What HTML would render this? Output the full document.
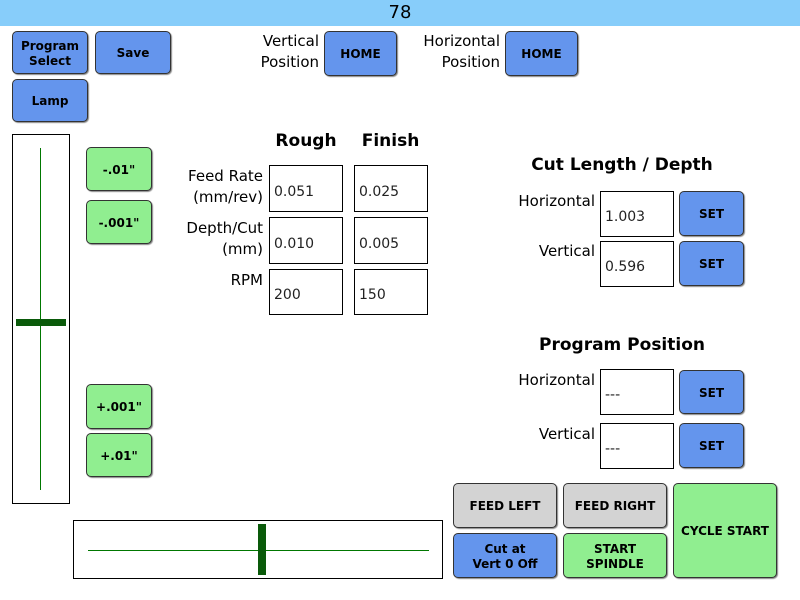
<!DOCTYPE html>
<html><head><meta charset="utf-8"><style>
body{margin:0;width:800px;height:600px;background:#fff;position:relative;overflow:hidden;font-family:"DejaVu Sans","Liberation Sans",sans-serif}
div{position:absolute;box-sizing:border-box}
.top{left:0;top:0;width:800px;height:26px;background:#87cdfa;text-align:center;font-size:18px;line-height:26px}
.b{border:1px solid #333;border-radius:5px;display:flex;align-items:center;justify-content:center;text-align:center;font-size:12px;font-weight:bold;line-height:15px;box-shadow:1px 1px 1px #888;padding-top:2px}
.bl{background:#6495ed}.g{background:#90ee90}.gr{background:#d3d3d3}
.in{border:1px solid #000;background:#fff;font-size:14px;padding-left:4px;display:flex;align-items:center;padding-top:6px;color:#222}
.l{font-size:15px;text-align:right;line-height:21px}
.h{font-size:17px;font-weight:bold}
</style></head><body>
<div class="top">78</div>
<div class="b bl" style="left:12px;top:31px;width:76px;height:43px">Program<br>Select</div>
<div class="b bl" style="left:95px;top:31px;width:76px;height:43px">Save</div>
<div class="b bl" style="left:12px;top:79px;width:76px;height:43px">Lamp</div>
<div class="l" style="left:230px;top:31px;width:89px">Vertical<br>Position</div>
<div class="b bl" style="left:324px;top:31px;width:73px;height:45px">HOME</div>
<div class="l" style="left:400px;top:31px;width:100px">Horizontal<br>Position</div>
<div class="b bl" style="left:505px;top:31px;width:73px;height:45px">HOME</div>
<div style="left:12px;top:134px;width:58px;height:370px;border:1px solid #000"></div>
<div style="left:40px;top:148px;width:1px;height:342px;background:#070"></div>
<div style="left:16px;top:319px;width:50px;height:7px;background:#0a5a0a"></div>
<div class="b g" style="left:86px;top:147px;width:66px;height:44px">-.01"</div>
<div class="b g" style="left:86px;top:200px;width:66px;height:44px">-.001"</div>
<div class="b g" style="left:86px;top:384px;width:66px;height:45px">+.001"</div>
<div class="b g" style="left:86px;top:433px;width:66px;height:44px">+.01"</div>
<div class="h" style="left:270px;top:131px;width:72px;text-align:center">Rough</div>
<div class="h" style="left:354px;top:131px;width:73px;text-align:center">Finish</div>
<div class="l" style="left:160px;top:166px;width:103px">Feed Rate<br>(mm/rev)</div>
<div class="l" style="left:160px;top:218px;width:103px">Depth/Cut<br>(mm)</div>
<div class="l" style="left:160px;top:270px;width:103px">RPM</div>
<div class="in" style="left:269px;top:165px;width:74px;height:47px">0.051</div>
<div class="in" style="left:354px;top:165px;width:74px;height:47px">0.025</div>
<div class="in" style="left:269px;top:217px;width:74px;height:47px">0.010</div>
<div class="in" style="left:354px;top:217px;width:74px;height:47px">0.005</div>
<div class="in" style="left:269px;top:269px;width:74px;height:46px">200</div>
<div class="in" style="left:354px;top:269px;width:74px;height:46px">150</div>
<div class="h" style="left:500px;top:155px;width:244px;text-align:center">Cut Length / Depth</div>
<div class="l" style="left:480px;top:191px;width:115px">Horizontal</div>
<div class="in" style="left:600px;top:191px;width:74px;height:46px">1.003</div>
<div class="b bl" style="left:679px;top:191px;width:65px;height:45px">SET</div>
<div class="l" style="left:480px;top:241px;width:115px">Vertical</div>
<div class="in" style="left:600px;top:241px;width:74px;height:46px">0.596</div>
<div class="b bl" style="left:679px;top:241px;width:65px;height:45px">SET</div>
<div class="h" style="left:500px;top:335px;width:244px;text-align:center">Program Position</div>
<div class="l" style="left:480px;top:370px;width:115px">Horizontal</div>
<div class="in" style="left:600px;top:369px;width:74px;height:46px">---</div>
<div class="b bl" style="left:679px;top:370px;width:65px;height:44px">SET</div>
<div class="l" style="left:480px;top:424px;width:115px">Vertical</div>
<div class="in" style="left:600px;top:423px;width:74px;height:46px">---</div>
<div class="b bl" style="left:679px;top:423px;width:65px;height:45px">SET</div>
<div style="left:73px;top:520px;width:370px;height:59px;border:1px solid #000"></div>
<div style="left:88px;top:550px;width:341px;height:1px;background:#070"></div>
<div style="left:258px;top:524px;width:8px;height:51px;background:#0a5a0a"></div>
<div class="b gr" style="left:453px;top:483px;width:104px;height:45px">FEED LEFT</div>
<div class="b gr" style="left:563px;top:483px;width:104px;height:45px">FEED RIGHT</div>
<div class="b bl" style="left:453px;top:533px;width:104px;height:45px">Cut at<br>Vert 0 Off</div>
<div class="b g" style="left:563px;top:533px;width:104px;height:45px">START<br>SPINDLE</div>
<div class="b g" style="left:673px;top:483px;width:104px;height:95px">CYCLE START</div>
</body></html>
